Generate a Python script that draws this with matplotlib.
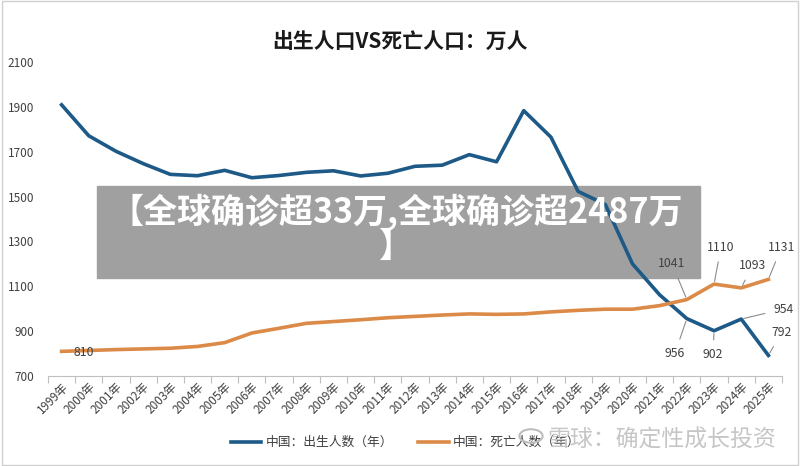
import numpy as np
import matplotlib.pyplot as plt
from matplotlib.patches import Rectangle, Circle

plt.rcParams['font.family'] = ['Noto Sans CJK SC', 'DejaVu Sans']

# data (万人)
years = ['%d年' % y for y in range(1999, 2026)]
births = [1909, 1771, 1702, 1647, 1599, 1593, 1617, 1584, 1594, 1608, 1615, 1592, 1604,
          1635, 1640, 1687, 1655, 1883, 1765, 1523, 1465, 1200, 1062, 956, 902, 954, 792]
deaths = [810, 814, 818, 821, 824, 832, 849, 892, 913, 935, 943, 951, 960,
          966, 972, 977, 975, 977, 986, 993, 998, 998, 1014, 1041, 1110, 1093, 1131]

blue = '#1d5a87'
orange = '#db8a47'

fig = plt.figure(figsize=(8, 4.66), dpi=100)
ax = fig.add_axes([0.06, 0.193, 0.9175, 0.674])
ax.patch.set_visible(False)

x = np.arange(len(years))
ax.plot(x, births, color=blue, lw=2.6, solid_joinstyle='round', label='中国：出生人数（年）')
ax.plot(x, deaths, color=orange, lw=2.6, solid_joinstyle='round', label='中国：死亡人数（年）')

ax.set_xlim(-0.5, len(years) - 0.5)
ax.set_ylim(700, 2100)
ax.set_yticks(range(700, 2101, 200))
ax.tick_params(axis='y', length=0, labelsize=8.5, labelcolor='#404040', pad=10)

# category boundaries get the tick marks, labels sit in the middle
ax.set_xticks(np.arange(-0.5, len(years)), minor=False)
ax.set_xticklabels([])
ax.set_xticks(x, minor=True)
ax.set_xticklabels(years, minor=True, rotation=45, ha='right', rotation_mode='anchor')
ax.tick_params(axis='x', which='major', length=5, color='#bfbfbf')
ax.tick_params(axis='x', which='minor', length=0, labelsize=8.5, labelcolor='#404040', pad=3)

for s in ['top', 'right', 'left']:
    ax.spines[s].set_visible(False)
ax.spines['bottom'].set_color('#bfbfbf')

# data labels
lab_kw = dict(textcoords='offset pixels', fontsize=8.8, color='#404040', ha='center', va='center',
              arrowprops=dict(arrowstyle='-', color='#8c8c8c', lw=0.8, shrinkA=4, shrinkB=2))
ax.annotate('810', (0, deaths[0]), xytext=(22, -1), textcoords='offset pixels',
            fontsize=8.8, color='#404040', ha='center', va='center')
ax.annotate('1041', (23, deaths[23]), xytext=(-15, 36), **lab_kw)
ax.annotate('1110', (24, deaths[24]), xytext=(7, 37), **lab_kw)
ax.annotate('1093', (25, deaths[25]), xytext=(11, 22), **lab_kw)
ax.annotate('1131', (26, deaths[26]), xytext=(13, 32), **lab_kw)
ax.annotate('956', (23, births[23]), xytext=(-12, -35), **lab_kw)
ax.annotate('902', (24, births[24]), xytext=(-1, -24), **lab_kw)
ax.annotate('954', (25, births[25]), xytext=(42, 10), **lab_kw)
ax.annotate('792', (26, births[26]), xytext=(13, 23), **lab_kw)

fig.text(0.5, 0.91, '出生人口VS死亡人口：万人', ha='center', va='center',
         fontsize=15, fontweight='bold', color='#1a1a1a')

leg = fig.legend(loc='center', bbox_to_anchor=(0.507, 0.05), ncol=2, frameon=False,
                 fontsize=9.2, handlelength=2.4, handletextpad=0.3, columnspacing=2.0)
for t in leg.get_texts():
    t.set_color('#404040')

# watermark
fig.patches.append(Circle((531 / 800, 1 - 436 / 466), 0.0145, transform=fig.transFigure,
                          fill=False, edgecolor='#bdbdbd', lw=1.5, zorder=7))
fig.text(662 / 800, 1 - 440 / 466, '雪球：确定性成长投资', ha='center', va='center', fontsize=16.5,
         color='#c6c6c6', zorder=7)

# grey banner behind the lines, its text above them
fig.patches.append(Rectangle((97 / 800, 1 - 278 / 466), 603 / 800, 92 / 466,
                             transform=fig.transFigure, color='#a0a0a0', zorder=-1))
fig.text(396 / 800, 1 - 212 / 466, '【全球确诊超33万,全球确诊超2487万', ha='center', va='center',
         fontsize=24.5, fontweight='bold', color='white', zorder=6)
fig.text(396 / 800, 1 - 246 / 466, '】', ha='center', va='center',
         fontsize=24.5, fontweight='bold', color='white', zorder=6)

# thin frame round the picture
fig.patches.append(Rectangle((0.002, 0.003), 0.996, 0.994, transform=fig.transFigure,
                             fill=False, edgecolor='#d0d0d0', lw=1))

plt.savefig('out.png', dpi=100)
